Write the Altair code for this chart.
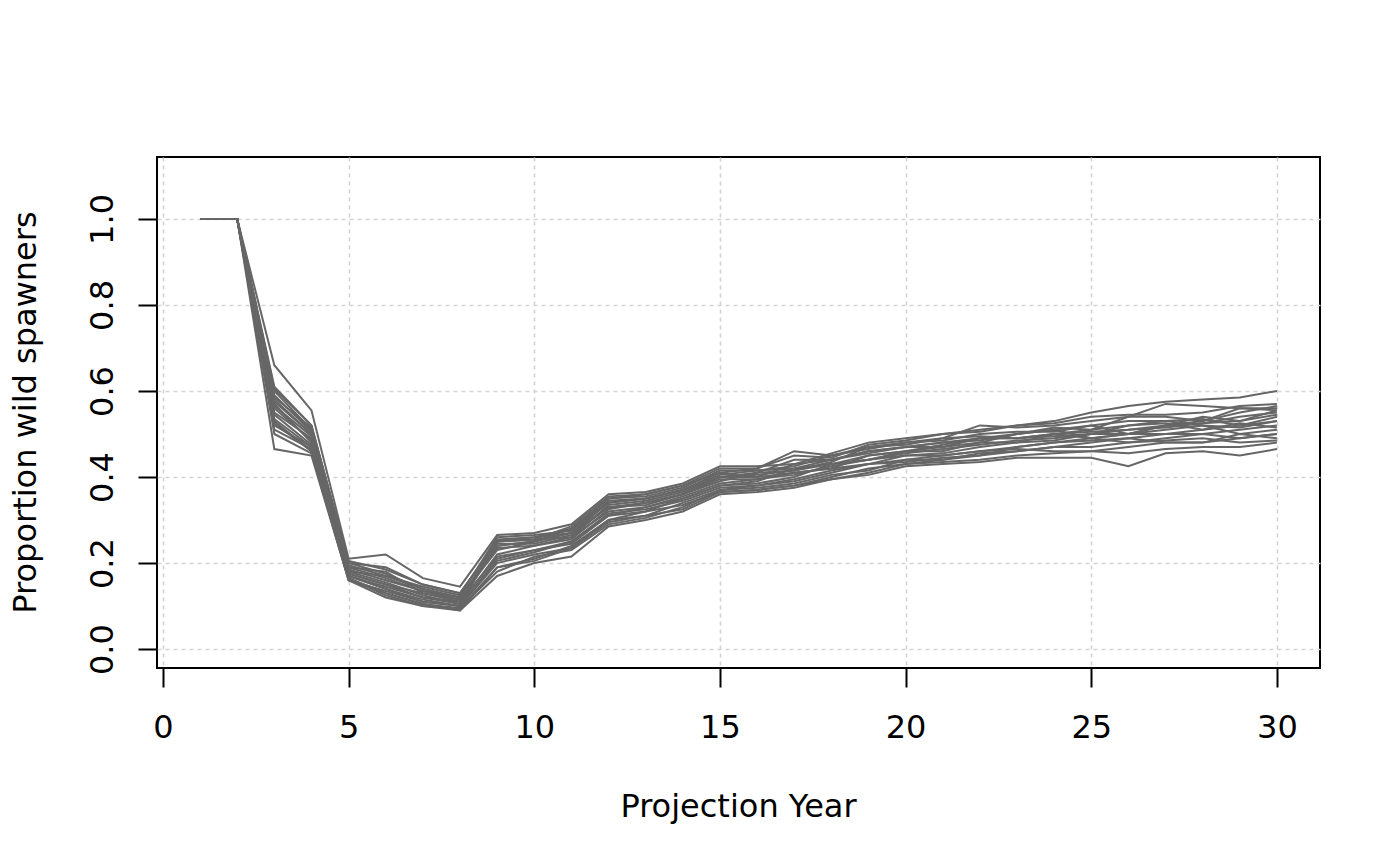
import altair as alt
import pandas as pd

years = list(range(1, 31))

s01 = [1, 1, 0.66, 0.555, 0.21, 0.22, 0.165, 0.145, 0.265, 0.27, 0.29, 0.36, 0.365, 0.385, 0.425, 0.425, 0.43, 0.455, 0.48, 0.49, 0.50, 0.505, 0.52, 0.53, 0.55, 0.565, 0.575, 0.58, 0.585, 0.60]
s02 = [1, 1, 0.465, 0.45, 0.16, 0.13, 0.105, 0.09, 0.17, 0.20, 0.215, 0.285, 0.30, 0.32, 0.36, 0.365, 0.375, 0.395, 0.405, 0.425, 0.43, 0.435, 0.445, 0.445, 0.445, 0.425, 0.455, 0.46, 0.45, 0.465]
s03 = [1, 1, 0.61, 0.52, 0.20, 0.19, 0.15, 0.13, 0.25, 0.26, 0.28, 0.35, 0.36, 0.38, 0.41, 0.42, 0.46, 0.45, 0.47, 0.48, 0.49, 0.52, 0.515, 0.52, 0.53, 0.54, 0.57, 0.565, 0.56, 0.56]
s04 = [1, 1, 0.58, 0.50, 0.18, 0.17, 0.14, 0.12, 0.24, 0.25, 0.27, 0.34, 0.35, 0.37, 0.40, 0.41, 0.44, 0.44, 0.46, 0.47, 0.48, 0.49, 0.50, 0.51, 0.52, 0.53, 0.53, 0.52, 0.50, 0.51]
s05 = [1, 1, 0.55, 0.49, 0.17, 0.14, 0.11, 0.10, 0.21, 0.23, 0.25, 0.31, 0.32, 0.35, 0.38, 0.385, 0.40, 0.43, 0.44, 0.45, 0.45, 0.46, 0.47, 0.48, 0.49, 0.50, 0.52, 0.53, 0.56, 0.555]
s06 = [1, 1, 0.52, 0.47, 0.165, 0.125, 0.10, 0.095, 0.19, 0.21, 0.24, 0.30, 0.31, 0.34, 0.37, 0.38, 0.39, 0.41, 0.43, 0.44, 0.44, 0.45, 0.46, 0.47, 0.48, 0.49, 0.50, 0.50, 0.51, 0.52]
s07 = [1, 1, 0.60, 0.51, 0.19, 0.18, 0.13, 0.11, 0.255, 0.26, 0.27, 0.33, 0.34, 0.36, 0.40, 0.40, 0.41, 0.42, 0.45, 0.46, 0.47, 0.49, 0.49, 0.495, 0.50, 0.50, 0.51, 0.52, 0.515, 0.53]
s08 = [1, 1, 0.57, 0.48, 0.175, 0.15, 0.12, 0.105, 0.22, 0.24, 0.26, 0.32, 0.33, 0.35, 0.38, 0.39, 0.42, 0.43, 0.44, 0.46, 0.46, 0.48, 0.48, 0.50, 0.49, 0.48, 0.49, 0.50, 0.49, 0.50]
s09 = [1, 1, 0.53, 0.46, 0.16, 0.135, 0.11, 0.10, 0.20, 0.22, 0.235, 0.30, 0.32, 0.335, 0.365, 0.37, 0.38, 0.40, 0.42, 0.43, 0.44, 0.455, 0.46, 0.47, 0.47, 0.48, 0.485, 0.49, 0.48, 0.485]
s10 = [1, 1, 0.59, 0.505, 0.185, 0.16, 0.135, 0.12, 0.23, 0.25, 0.28, 0.34, 0.35, 0.37, 0.41, 0.40, 0.43, 0.44, 0.455, 0.47, 0.47, 0.48, 0.50, 0.51, 0.49, 0.50, 0.52, 0.54, 0.53, 0.545]
s11 = [1, 1, 0.51, 0.465, 0.17, 0.145, 0.12, 0.11, 0.215, 0.23, 0.245, 0.31, 0.33, 0.355, 0.385, 0.395, 0.41, 0.42, 0.43, 0.45, 0.455, 0.47, 0.48, 0.485, 0.50, 0.52, 0.53, 0.535, 0.52, 0.54]
s12 = [1, 1, 0.545, 0.475, 0.18, 0.155, 0.125, 0.105, 0.245, 0.245, 0.265, 0.33, 0.335, 0.36, 0.39, 0.41, 0.415, 0.435, 0.47, 0.475, 0.49, 0.495, 0.49, 0.50, 0.51, 0.54, 0.54, 0.53, 0.55, 0.565]
s13 = [1, 1, 0.565, 0.495, 0.195, 0.17, 0.145, 0.125, 0.26, 0.265, 0.275, 0.35, 0.355, 0.375, 0.415, 0.415, 0.425, 0.45, 0.465, 0.48, 0.485, 0.50, 0.505, 0.505, 0.52, 0.50, 0.50, 0.51, 0.525, 0.515]
s14 = [1, 1, 0.50, 0.455, 0.165, 0.13, 0.105, 0.095, 0.18, 0.215, 0.23, 0.29, 0.305, 0.33, 0.37, 0.375, 0.385, 0.405, 0.415, 0.44, 0.45, 0.46, 0.465, 0.46, 0.46, 0.455, 0.465, 0.47, 0.47, 0.48]
s15 = [1, 1, 0.585, 0.515, 0.205, 0.185, 0.15, 0.13, 0.25, 0.255, 0.285, 0.355, 0.36, 0.38, 0.42, 0.42, 0.45, 0.445, 0.475, 0.485, 0.50, 0.51, 0.52, 0.525, 0.54, 0.545, 0.545, 0.55, 0.565, 0.57]
s16 = [1, 1, 0.535, 0.47, 0.17, 0.14, 0.115, 0.10, 0.205, 0.225, 0.25, 0.315, 0.325, 0.345, 0.375, 0.38, 0.395, 0.415, 0.43, 0.435, 0.445, 0.45, 0.47, 0.48, 0.485, 0.49, 0.48, 0.48, 0.50, 0.49]
s17 = [1, 1, 0.56, 0.485, 0.175, 0.15, 0.13, 0.115, 0.235, 0.24, 0.255, 0.325, 0.34, 0.36, 0.395, 0.395, 0.405, 0.425, 0.44, 0.455, 0.465, 0.475, 0.485, 0.49, 0.50, 0.51, 0.515, 0.525, 0.54, 0.55]
s18 = [1, 1, 0.605, 0.52, 0.20, 0.175, 0.14, 0.12, 0.24, 0.25, 0.27, 0.345, 0.35, 0.37, 0.405, 0.415, 0.42, 0.44, 0.46, 0.47, 0.48, 0.485, 0.50, 0.515, 0.51, 0.52, 0.525, 0.51, 0.52, 0.53]
s19 = [1, 1, 0.525, 0.46, 0.16, 0.12, 0.10, 0.09, 0.19, 0.205, 0.235, 0.295, 0.31, 0.325, 0.365, 0.37, 0.38, 0.395, 0.41, 0.43, 0.435, 0.44, 0.45, 0.455, 0.46, 0.47, 0.48, 0.48, 0.49, 0.50]
s20 = [1, 1, 0.575, 0.50, 0.19, 0.165, 0.135, 0.115, 0.25, 0.255, 0.26, 0.335, 0.345, 0.365, 0.40, 0.405, 0.415, 0.43, 0.45, 0.46, 0.475, 0.49, 0.49, 0.50, 0.505, 0.51, 0.52, 0.525, 0.53, 0.555]

series = [s01, s02, s03, s04, s05, s06, s07, s08, s09, s10,
          s11, s12, s13, s14, s15, s16, s17, s18, s19, s20]

x_ticks = [0, 5, 10, 15, 20, 25, 30]
y_ticks = [0.0, 0.2, 0.4, 0.6, 0.8, 1.0]

rows = []
for i, s in enumerate(series):
    for yr, v in zip(years, s):
        rows.append({"sim": i + 1, "year": yr, "prop": v})
df = pd.DataFrame(rows)

FONT = "DejaVu Sans"
FS = 32

chart = alt.Chart(df).mark_line(color="#666666", strokeWidth=2, clip=True).encode(
    x=alt.X("year:Q",
            scale=alt.Scale(domain=[-0.16, 31.16], nice=False, zero=False),
            axis=alt.Axis(values=x_ticks, format="d", title="Projection Year",
                          grid=True, gridColor="#d3d3d3", gridDash=[4, 4], gridWidth=1.6,
                          domain=False, ticks=True, tickSize=19, tickColor="black", tickWidth=2,
                          tickOpacity=1,
                          labelFont=FONT, labelFontSize=FS, labelColor="black",
                          labelBaseline="alphabetic", labelPadding=50, labelFlush=False,
                          labelOverlap=False,
                          titleFont=FONT, titleFontSize=FS, titleFontWeight="normal", titleColor="black",
                          titleBaseline="alphabetic", titleAlign="center", titleX=581, titleY=148)),
    y=alt.Y("prop:Q",
            scale=alt.Scale(domain=[-0.044, 1.144], nice=False, zero=False),
            axis=alt.Axis(values=y_ticks, format=".1f", title="Proportion wild spawners",
                          grid=True, gridColor="#d3d3d3", gridDash=[4, 4], gridWidth=1.6,
                          domain=False, ticks=True, tickSize=19, tickColor="black", tickWidth=2,
                          tickOpacity=1,
                          labelFont=FONT, labelFontSize=FS, labelColor="black",
                          labelAngle=-90, labelAlign="center", labelBaseline="alphabetic",
                          labelPadding=26, labelFlush=False, labelOverlap=False,
                          titleFont=FONT, titleFontSize=FS, titleFontWeight="normal", titleColor="black",
                          titleAngle=-90, titleBaseline="alphabetic", titleAlign="center",
                          titleX=-122, titleY=255)),
    detail="sim:N",
).properties(
    width=1163, height=511,
    autosize=alt.AutoSizeParams(type="none"),
    padding={"left": 149, "top": 149, "right": 70, "bottom": 180},
    background="white",
).configure_view(
    stroke="black", strokeWidth=2
)

chart.save("out.html", embed_options={"renderer": "svg", "actions": False})
